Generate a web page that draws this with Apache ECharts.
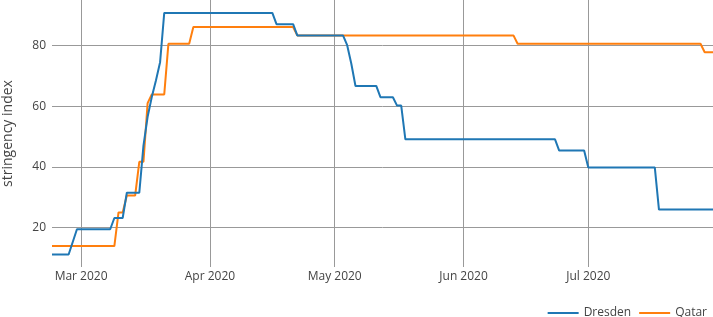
<!DOCTYPE html>
<html>
<head>
<meta charset="utf-8">
<script src="https://cdn.jsdelivr.net/npm/echarts@6/dist/echarts.min.js"></script>
<style>
  html, body { margin: 0; padding: 0; background: #fff; }
  #chart { width: 713px; height: 317px; }
</style>
</head>
<body>
<div id="chart"></div>
<script>
// breakpoints (daily data, flat stretches between them)
const dresdenDates = ['2020-02-23', '2020-02-27', '2020-02-29', '2020-03-08', '2020-03-09', '2020-03-11',
  '2020-03-12', '2020-03-15', '2020-03-16', '2020-03-17', '2020-03-18', '2020-03-19', '2020-03-20',
  '2020-03-21', '2020-04-16', '2020-04-17', '2020-04-21', '2020-04-22', '2020-05-03', '2020-05-04',
  '2020-05-05', '2020-05-06', '2020-05-11', '2020-05-12', '2020-05-15', '2020-05-16', '2020-05-17',
  '2020-05-18', '2020-06-23', '2020-06-24', '2020-06-30', '2020-07-01', '2020-07-17', '2020-07-18',
  '2020-07-31'];
const dresdenValues = [11.11, 11.11, 19.44, 19.44, 23.15, 23.15,
  31.48, 31.48, 47, 56.5, 63, 68.5, 74.5,
  90.74, 90.74, 87.04, 87.04, 83.33, 83.33, 80.1,
  74, 66.67, 66.67, 62.96, 62.96, 60.19, 60.19,
  49.07, 49.07, 45.37, 45.37, 39.81, 39.81, 25.93,
  25.93];

const qatarDates = ['2020-02-23', '2020-03-09', '2020-03-10', '2020-03-11', '2020-03-12', '2020-03-14',
  '2020-03-15', '2020-03-16', '2020-03-17', '2020-03-18', '2020-03-21', '2020-03-22', '2020-03-27',
  '2020-03-28', '2020-04-21', '2020-04-22', '2020-06-13', '2020-06-14', '2020-07-28', '2020-07-29',
  '2020-07-31'];
const qatarValues = [13.89, 13.89, 25, 25, 30.56, 30.56,
  41.67, 41.67, 61, 63.89, 63.89, 80.56, 80.56,
  86.11, 86.11, 83.33, 83.33, 80.56, 80.56, 77.78,
  77.78];

const tickDates = ['2020-03-01', '2020-04-01', '2020-05-01', '2020-06-01', '2020-07-01'];
const tickLabels = ['Mar 2020', 'Apr 2020', 'May 2020', 'Jun 2020', 'Jul 2020'];

const xMin = '2020-02-23';
const xMax = '2020-07-31';
const yMin = 7;
const yMax = 95;

const toTime = s => Date.UTC(+s.slice(0, 4), +s.slice(5, 7) - 1, +s.slice(8, 10));
const tickTimes = tickDates.map(toTime);
const pairs = (dates, values) => dates.map((d, i) => [toTime(d), values[i]]);

const chart = echarts.init(document.getElementById('chart'));
const gridColor = '#999';
const textColor = '#444';
const font = '"Open Sans", verdana, arial, sans-serif';

chart.setOption({
  animation: false,
  textStyle: { fontFamily: font },
  grid: { left: 52, right: 0, top: 0, bottom: 50, outerBoundsMode: 'none', containLabel: false },
  legend: {
    data: ['Dresden', 'Qatar'],
    right: 1,
    top: 302,
    icon: 'rect',
    itemWidth: 31,
    itemHeight: 2,
    itemGap: 8,
    textStyle: { color: textColor, fontSize: 12, fontFamily: font }
  },
  xAxis: {
    type: 'value',
    min: toTime(xMin),
    max: toTime(xMax),
    axisLine: { show: false },
    axisTick: { show: false, customValues: tickTimes },
    axisLabel: {
      customValues: tickTimes,
      color: textColor,
      fontSize: 12,
      margin: 4,
      formatter: function (v) {
        const i = tickTimes.indexOf(v);
        return i >= 0 ? tickLabels[i] : '';
      }
    },
    splitLine: { show: true, lineStyle: { color: gridColor, width: 1 } }
  },
  yAxis: {
    type: 'value',
    min: yMin,
    max: yMax,
    name: 'stringency index',
    nameLocation: 'middle',
    nameGap: 37,
    nameTextStyle: { color: textColor, fontSize: 14, fontFamily: font },
    axisLine: { show: false },
    axisTick: { show: false },
    axisLabel: {
      color: textColor,
      fontSize: 12,
      margin: 6,
      showMinLabel: false,
      showMaxLabel: false
    },
    splitLine: {
      show: true,
      showMinLine: false,
      showMaxLine: false,
      lineStyle: { color: gridColor, width: 1 }
    }
  },
  series: [
    {
      name: 'Dresden',
      type: 'line',
      showSymbol: false,
      symbol: 'none',
      data: pairs(dresdenDates, dresdenValues),
      itemStyle: { color: '#1f77b4' },
      lineStyle: { color: '#1f77b4', width: 2 },
      z: 3
    },
    {
      name: 'Qatar',
      type: 'line',
      showSymbol: false,
      symbol: 'none',
      data: pairs(qatarDates, qatarValues),
      itemStyle: { color: '#ff7f0e' },
      lineStyle: { color: '#ff7f0e', width: 2 },
      z: 2
    }
  ]
});
</script>
</body>
</html>
